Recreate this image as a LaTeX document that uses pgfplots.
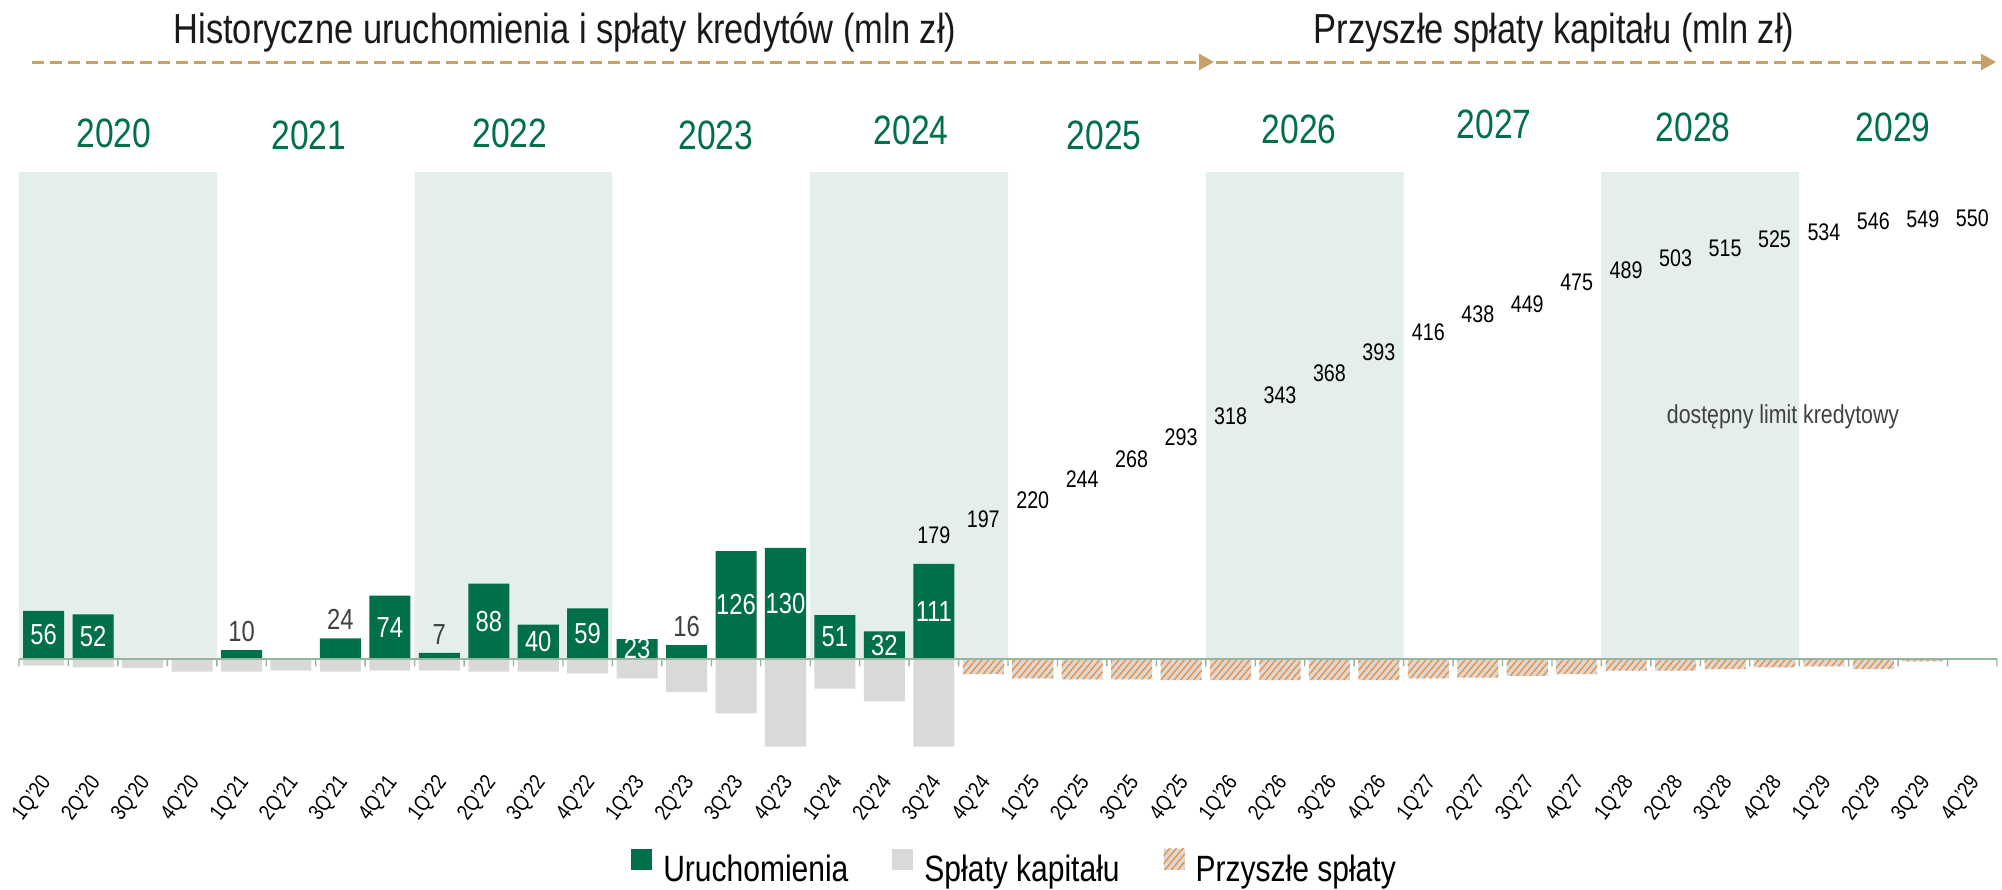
\documentclass[border=0pt]{standalone}
\usepackage{fontspec}
\setmainfont{Liberation Sans}[FakeStretch=0.82]
\usepackage{pgfplots}
\pgfplotsset{compat=1.18}
\usepackage{pgfplotstable}
\usetikzlibrary{patterns.meta,arrows.meta}

\definecolor{gr}{RGB}{0,112,72}
\definecolor{band}{RGB}{228,238,234}
\definecolor{lgray}{RGB}{217,217,217}
\definecolor{hatchc}{RGB}{242,140,50}
\definecolor{basec}{RGB}{150,180,160}
\definecolor{arrowc}{RGB}{200,160,105}
\definecolor{txt}{RGB}{64,64,64}

% Uruchomienia (drawdowns)
\pgfplotstableread{
x v
0 56
1 52
4 10
6 24
7 74
8 7
9 88
10 40
11 59
12 23
13 16
14 126
15 130
16 51
17 32
18 111
}\launch
% labels inside bars
\pgfplotstableread{
x v
0 56
1 52
7 74
9 88
10 40
11 59
12 23
14 126
15 130
16 51
17 32
18 111
}\lin
% labels above bars
\pgfplotstableread{
x v
4 10
6 24
8 7
13 16
}\lout
% historical repayments
\pgfplotstableread{
x v
0 -8
1 -10
2 -11
3 -15
4 -15
5 -14
6 -15
7 -14
8 -14
9 -15
10 -15
11 -17
12 -23
13 -39
14 -64
15 -103
16 -35
17 -50
18 -103
}\rep
% future repayments
\pgfplotstableread{
x v
19 -18
20 -23
21 -24
22 -24
23 -25
24 -25
25 -25
26 -25
27 -25
28 -23
29 -22
30 -20
31 -18
32 -14
33 -14
34 -12
35 -10
36 -9
37 -12
38 -3
39 -1
}\fut
% available credit limit
\pgfplotstableread{
x v
18 179
19 197
20 220
21 244
22 268
23 293
24 318
25 343
26 368
27 393
28 416
29 438
30 449
31 475
32 489
33 503
34 515
35 525
36 534
37 546
38 549
39 550
}\limtab

\begin{document}
\begin{tikzpicture}
\path (0pt,0pt) rectangle (1001pt,-444.5pt);
\begin{axis}[
  at={(9.5pt,-375.5pt)}, anchor=south west,
  scale only axis, width=989pt, height=289.5pt,
  xmin=-0.5, xmax=39.5, ymin=-108, ymax=570,
  axis line style={draw=none},
  ytick=\empty,
  xtick={0,...,39},
  xticklabels={1Q'20,2Q'20,3Q'20,4Q'20,1Q'21,2Q'21,3Q'21,4Q'21,1Q'22,2Q'22,3Q'22,4Q'22,1Q'23,2Q'23,3Q'23,4Q'23,1Q'24,2Q'24,3Q'24,4Q'24,1Q'25,2Q'25,3Q'25,4Q'25,1Q'26,2Q'26,3Q'26,4Q'26,1Q'27,2Q'27,3Q'27,4Q'27,1Q'28,2Q'28,3Q'28,4Q'28,1Q'29,2Q'29,3Q'29,4Q'29},
  major tick length=0pt,
  xticklabel style={font=\fontsize{11pt}{12pt}\selectfont, xshift=1.75pt, yshift=-14pt, rotate=53, anchor=east, inner sep=0pt},
  clip=false,
  /pgf/number format/assume math mode=true,
  legend style={at={(axis description cs:0.5028,-0.200)}, anchor=center, draw=none, fill=none, inner sep=0pt,
    legend columns=-1, font=\fontsize{18.3pt}{20pt}\selectfont,
    nodes={inner sep=0pt},
    /tikz/every odd column/.append style={column sep=5.5pt},
    /tikz/every even column/.append style={column sep=22pt}},
  legend cell align=left,
  legend image code/.code={\path[#1,draw=none] (0pt,0pt) rectangle (10.5pt,10.5pt);},
]
% year bands
\addplot[forget plot, ybar, bar width=4, bar shift=0pt, fill=band, draw=none]
  coordinates {(1.5,570) (9.5,570) (17.5,570) (25.5,570) (33.5,570)};
% bars
\addplot[ybar, bar width=0.83, bar shift=0pt, fill=gr, draw=none] table[x=x,y=v]{\launch};
\addlegendentry{Uruchomienia}
\addplot[ybar, bar width=0.83, bar shift=0pt, fill=lgray, draw=none] table[x=x,y=v]{\rep};
\addlegendentry{Spłaty kapitału}
\addplot[ybar, bar width=0.83, bar shift=0pt, fill=lgray, draw=none,
  postaction={pattern={Lines[angle=50,distance=2.5pt,line width=0.65pt]}, pattern color=hatchc}] table[x=x,y=v]{\fut};
\addlegendentry{Przyszłe spłaty}
% baseline and boundary ticks
\addplot[forget plot, basec, line width=1.2pt] coordinates {(-0.5,0) (39.5,0)};
\addplot[forget plot, ybar, bar width=0.7pt, bar shift=0pt, fill=basec, draw=none] coordinates {
(-0.5,-9) (0.5,-9) (1.5,-9) (2.5,-9) (3.5,-9) (4.5,-9) (5.5,-9) (6.5,-9) (7.5,-9) (8.5,-9)
(9.5,-9) (10.5,-9) (11.5,-9) (12.5,-9) (13.5,-9) (14.5,-9) (15.5,-9) (16.5,-9) (17.5,-9) (18.5,-9)
(19.5,-9) (20.5,-9) (21.5,-9) (22.5,-9) (23.5,-9) (24.5,-9) (25.5,-9) (26.5,-9) (27.5,-9) (28.5,-9)
(29.5,-9) (30.5,-9) (31.5,-9) (32.5,-9) (33.5,-9) (34.5,-9) (35.5,-9) (36.5,-9) (37.5,-9) (38.5,-9) (39.5,-9)};
% value labels
\addplot[forget plot, draw=none, mark=none, nodes near coords, point meta=explicit,
  every node near coord/.append style={text=white, font=\fontsize{14.5pt}{16pt}\selectfont, anchor=center, inner sep=0pt}]
  table[x=x, y expr=\thisrow{v}/2, meta=v]{\lin};
\addplot[forget plot, draw=none, mark=none, nodes near coords, point meta=explicit,
  every node near coord/.append style={text=txt, font=\fontsize{14.5pt}{16pt}\selectfont, anchor=south, yshift=4pt, inner sep=0pt}]
  table[x=x, y=v, meta=v]{\lout};
\addplot[forget plot, draw=none, mark=none, nodes near coords, point meta=explicit,
  every node near coord/.append style={text=black, font=\fontsize{12pt}{14pt}\selectfont, anchor=center, yshift=-14.5pt, inner sep=0pt}]
  table[x=x, y=v, meta=v]{\limtab};
\end{axis}
% titles and arrows
\node[anchor=base, font=\fontsize{21pt}{24pt}\selectfont, text=black!90] at (282.5pt,-21.5pt) {Historyczne uruchomienia i spłaty kredytów (mln zł)};
\node[anchor=base, font=\fontsize{21pt}{24pt}\selectfont, text=black!90] at (777pt,-21.5pt) {Przyszłe spłaty kapitału (mln zł)};
\draw[arrowc, line width=1.5pt, dash pattern=on 6pt off 3pt, -{Triangle[length=7.5pt,width=8pt]}] (16pt,-31pt) -- (607pt,-31pt);
\draw[arrowc, line width=1.5pt, dash pattern=on 6pt off 3pt, -{Triangle[length=7.5pt,width=8pt]}] (608pt,-31pt) -- (998pt,-31pt);
% year labels
\begin{scope}[every node/.style={anchor=center, font=\fontsize{20.5pt}{23pt}\selectfont, text=gr}]
\node at (57pt,-66.5pt) {2020};
\node at (154.5pt,-67.5pt) {2021};
\node at (255pt,-66.5pt) {2022};
\node at (358pt,-67.5pt) {2023};
\node at (455.5pt,-65pt) {2024};
\node at (552pt,-67.5pt) {2025};
\node at (649.5pt,-64.5pt) {2026};
\node at (747pt,-62pt) {2027};
\node at (846.5pt,-63.5pt) {2028};
\node at (946.5pt,-63.5pt) {2029};
\end{scope}
\node[anchor=center, font=\fontsize{13pt}{15pt}\selectfont, text=txt] at (891.5pt,-208.5pt) {dostępny limit kredytowy};
\end{tikzpicture}
\end{document}
